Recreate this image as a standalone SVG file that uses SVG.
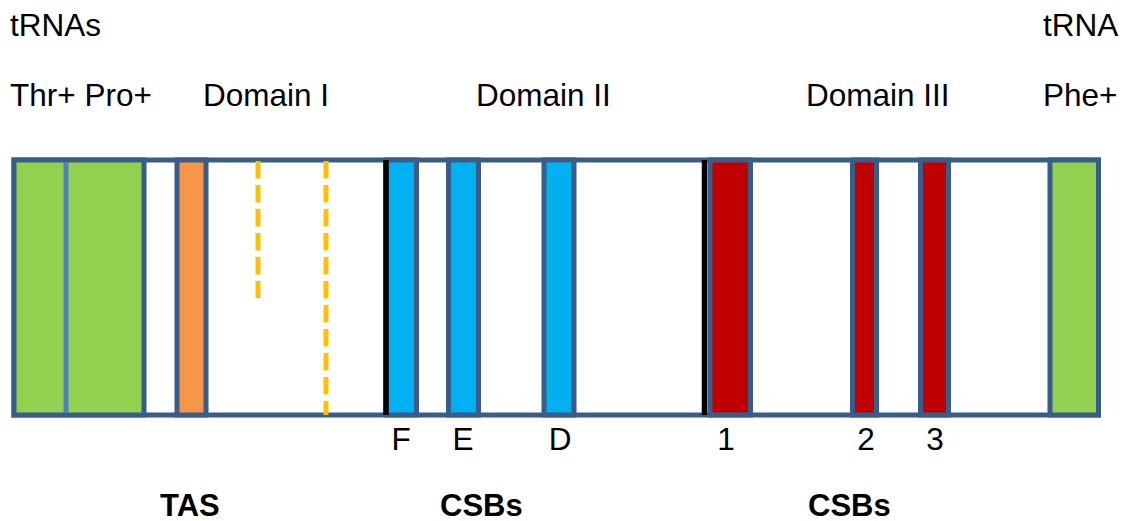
<svg xmlns="http://www.w3.org/2000/svg" width="1125" height="521" viewBox="0 0 1125 521">
  <style>
    .lbl { font-family: "Liberation Sans", Arial, sans-serif; font-size: 31.5px; fill: #000; }
    .bold { font-family: "Liberation Sans", Arial, sans-serif; font-size: 31px; font-weight: bold; fill: #000; }
    .seg { stroke: #385d8a; stroke-width: 5; }
    .green { fill: #92d050; }
    .orange { fill: #f79646; }
    .blue { fill: #00b0f0; }
    .red { fill: #c00000; }
    .dash { stroke: #ffc000; stroke-width: 5; stroke-dasharray: 17.5 6.5; fill: none; }
    .bound { stroke: #000; stroke-width: 5.5; }
  </style>
  <rect width="1125" height="521" fill="#fff"/>

  <!-- control region outline -->
  <g id="control-region">
    <rect class="seg" x="14" y="160" width="1084.5" height="255" fill="#fff"/>
  </g>

  <!-- tRNA Thr / Pro genes -->
  <g id="trna-thr-pro">
    <rect class="seg green" x="14" y="160" width="130" height="255"/>
    <line x1="66" y1="162" x2="66" y2="413" stroke="#4f81bd" stroke-width="5"/>
  </g>

  <!-- TAS -->
  <g id="tas">
    <rect class="seg orange" x="177" y="160" width="29" height="255"/>
  </g>

  <!-- dashed markers in domain I -->
  <g id="domain1-marks">
    <line class="dash" x1="258" y1="161" x2="258" y2="298"/>
    <line class="dash" x1="326" y1="161" x2="326" y2="415"/>
  </g>

  <!-- CSB F, E, D -->
  <g id="csb-f">
    <rect class="seg blue" x="386" y="160" width="30.5" height="255"/>
    <line class="bound" x1="386" y1="160" x2="386" y2="415"/>
  </g>
  <g id="csb-e">
    <rect class="seg blue" x="448.5" y="160" width="30" height="255"/>
  </g>
  <g id="csb-d">
    <rect class="seg blue" x="544" y="160" width="30" height="255"/>
  </g>

  <!-- CSB 1, 2, 3 -->
  <g id="csb-1">
    <line class="bound" x1="704.5" y1="160" x2="704.5" y2="415"/>
    <rect class="seg red" x="710" y="160" width="40.5" height="255"/>
  </g>
  <g id="csb-2">
    <rect class="seg red" x="852.5" y="160" width="24" height="255"/>
  </g>
  <g id="csb-3">
    <rect class="seg red" x="920.5" y="160" width="28" height="255"/>
  </g>

  <!-- tRNA Phe gene -->
  <g id="trna-phe">
    <rect class="seg green" x="1050" y="160" width="48.5" height="255"/>
  </g>

  <!-- no connectors in this figure -->
  <g id="connectors"/>

  <!-- labels -->
  <g id="labels">
    <text class="lbl" x="10" y="36">tRNAs</text>
    <text class="lbl" x="10" y="106">Thr+ Pro+</text>
    <text class="lbl" x="203" y="106">Domain I</text>
    <text class="lbl" x="476" y="106">Domain II</text>
    <text class="lbl" x="806" y="106">Domain III</text>
    <text class="lbl" x="1043" y="36">tRNA</text>
    <text class="lbl" x="1043" y="106">Phe+</text>

    <text class="lbl" x="401" y="450" text-anchor="middle">F</text>
    <text class="lbl" x="463" y="450" text-anchor="middle">E</text>
    <text class="lbl" x="560" y="450" text-anchor="middle">D</text>
    <text class="lbl" x="726" y="450" text-anchor="middle">1</text>
    <text class="lbl" x="866" y="450" text-anchor="middle">2</text>
    <text class="lbl" x="935" y="450" text-anchor="middle">3</text>

    <text class="bold" x="160" y="516">TAS</text>
    <text class="bold" x="440" y="516">CSBs</text>
    <text class="bold" x="808" y="516">CSBs</text>
  </g>
</svg>
